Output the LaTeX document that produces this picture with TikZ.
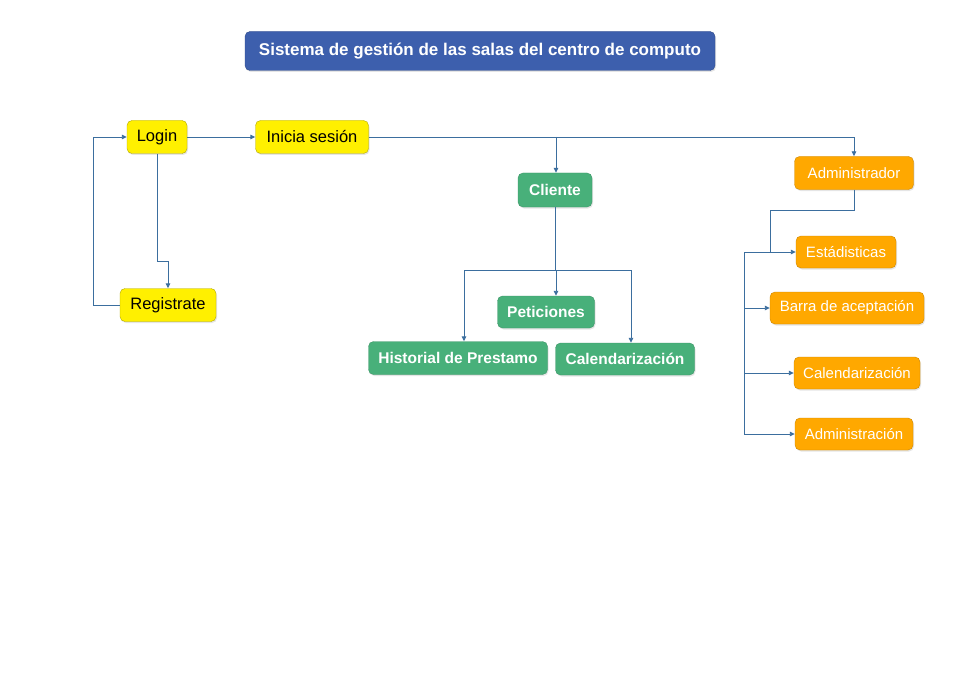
\documentclass[tikz,border=0pt]{standalone}
\usepackage{fontspec}
\setmainfont{Liberation Sans}
\usetikzlibrary{arrows.meta,shadows}
\definecolor{titleblue}{HTML}{3D5FAD}
\definecolor{boxyellow}{HTML}{FFF000}
\definecolor{boxgreen}{HTML}{48B07A}
\definecolor{boxorange}{HTML}{FFA800}
\definecolor{linkblue}{HTML}{3B6E9E}
\tikzset{
  box/.style={rectangle, rounded corners=5pt, inner sep=0pt, minimum height=33pt,
    drop shadow={opacity=0.2, shadow xshift=1pt, shadow yshift=-1.5pt}},
  titlebox/.style={box, fill=titleblue, draw=titleblue!80!black, minimum height=39pt,
    text=white, font=\fontsize{17}{20}\selectfont\bfseries},
  ybox/.style={box, fill=boxyellow, draw=boxyellow!70!black, font=\fontsize{16.5}{19}\selectfont},
  gbox/.style={box, fill=boxgreen, draw=boxgreen!85!black, text=white, font=\fontsize{15.5}{18}\selectfont\bfseries},
  obox/.style={box, fill=boxorange, draw=boxorange!80!black, minimum height=32pt, text=white, font=\fontsize{15}{18}\selectfont},
  conn/.style={draw=linkblue, line width=0.9pt},
  >={Triangle[length=5pt,width=4.5pt]}
}
\begin{document}
\begin{tikzpicture}[x=1pt, y=-1pt]
\useasboundingbox[fill=white] (0,0) rectangle (960,679);
% Title
\node[titlebox, minimum width=470pt] (title) at (480,51) {Sistema de gestión de las salas del centro de computo};

% Access
\node[ybox, minimum width=60pt] (login) at (157,137) {Login};
\node[ybox, minimum width=113pt] (inicia) at (312,137) {Inicia sesión};
\node[ybox, minimum width=96pt] (registrate) at (168,305) {Registrate};

% Client
\node[gbox, minimum width=74pt, minimum height=34pt] (cliente) at (555,190) {Cliente};
\node[gbox, minimum width=97pt, minimum height=32pt] (peticiones) at (546,312) {Peticiones};
\node[gbox, minimum width=179pt] (historial) at (458,358) {Historial de Prestamo};
\node[gbox, minimum width=139pt, minimum height=32pt] (calcli) at (625,359) {Calendarización};

% Administrator
\node[obox, minimum width=119pt, minimum height=33pt] (admin) at (854,173) {Administrador};
\node[obox, minimum width=100pt] (estad) at (846,252) {Estádisticas};
\node[obox, minimum width=154pt] (barra) at (847,308) {Barra de aceptación};
\node[obox, minimum width=126pt] (caladm) at (857,373) {Calendarización};
\node[obox, minimum width=118pt] (adminis) at (854,434) {Administración};

% Access links
\draw[conn,->] (login.east) -- (inicia.west);
\draw[conn,->] (login.south) -- ++(0,108) -| (registrate.north);
\draw[conn,->] (registrate.west) -- ++(-26,0) |- (login.west);
\draw[conn,->] (inicia.east) -| (admin.north);
\draw[conn,->] ([xshift=1pt]cliente.north |- inicia.east) -- ([xshift=1pt]cliente.north);

% Client links
\draw[conn] (cliente.south) -- ++(0,63) coordinate (cbus);
\draw[conn,->] ([xshift=1pt]cbus) -- ([xshift=1pt]cbus |- peticiones.north);
\draw[conn,->] (cbus) -| ([xshift=6pt]historial.north);
\draw[conn,->] (cbus) -| ([xshift=6pt]calcli.north);

% Administrator links
\coordinate (abus) at (744,252);
\draw[conn] (admin.south) -- ++(0,21) -| ([xshift=26pt]abus);
\draw[conn,->] (abus) -- (estad.west);
\draw[conn] (abus) -- (abus |- adminis.west);
\draw[conn,->] (abus |- barra.west) -- (barra.west);
\draw[conn,->] (abus |- caladm.west) -- (caladm.west);
\draw[conn,->] (abus |- adminis.west) -- (adminis.west);
\end{tikzpicture}
\end{document}
